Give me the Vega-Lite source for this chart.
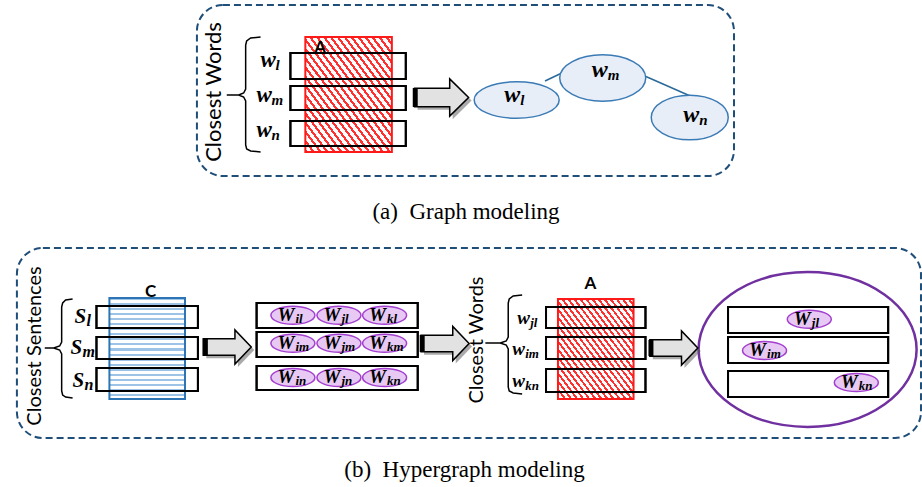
{
"$schema": "https://vega.github.io/schema/vega-lite/v6.json",
"width": 922, "height": 487, "padding": 0,
"autosize": {"type": "fit", "contains": "padding"},
"background": "white",
"config": {"view": {"stroke": null}},
"datasets": {
"panels": [{"x":198,"x2":738,"y":5,"y2":176},{"x":17,"x2":926,"y":248,"y2":438}],
"rows": [
{"x":292,"x2":408,"y":53,"y2":79},{"x":292,"x2":408,"y":86,"y2":110},{"x":292,"x2":408,"y":121,"y2":146},
{"x":97,"x2":199,"y":306,"y2":328},{"x":97,"x2":199,"y":337,"y2":359},{"x":97,"x2":199,"y":368,"y2":391},
{"x":258,"x2":420,"y":303,"y2":328},{"x":258,"x2":420,"y":332,"y2":357},{"x":258,"x2":420,"y":366,"y2":390},
{"x":549,"x2":649,"y":307,"y2":328},{"x":549,"x2":649,"y":337,"y2":359},{"x":549,"x2":649,"y":369,"y2":392},
{"x":732,"x2":893,"y":307,"y2":333},{"x":732,"x2":893,"y":337,"y2":363},{"x":732,"x2":893,"y":371,"y2":397}],
"hatch": [{"x":307,"x2":394,"y":37,"y2":152},{"x":561,"x2":637,"y":299,"y2":399}],
"blue": [{"x":110,"x2":186,"y":298,"y2":399}],
"braces": [
{"id":"a","o":0,"x":262,"y":37},{"id":"a","o":1,"x":252,"y":38},{"id":"a","o":2,"x":248,"y":41},{"id":"a","o":3,"x":247,"y":45},{"id":"a","o":4,"x":247,"y":89},{"id":"a","o":5,"x":245,"y":93},{"id":"a","o":6,"x":240,"y":95},{"id":"a","o":7,"x":228,"y":95},{"id":"a","o":8,"x":240,"y":95},{"id":"a","o":9,"x":245,"y":97},{"id":"a","o":10,"x":247,"y":101},{"id":"a","o":11,"x":247,"y":145},{"id":"a","o":12,"x":248,"y":149},{"id":"a","o":13,"x":252,"y":151},{"id":"a","o":14,"x":262,"y":152},
{"id":"b1","o":0,"x":73,"y":299},{"id":"b1","o":1,"x":66,"y":300},{"id":"b1","o":2,"x":63,"y":303},{"id":"b1","o":3,"x":62,"y":307},{"id":"b1","o":4,"x":62,"y":342},{"id":"b1","o":5,"x":60,"y":346},{"id":"b1","o":6,"x":54,"y":348},{"id":"b1","o":7,"x":45,"y":348},{"id":"b1","o":8,"x":54,"y":348},{"id":"b1","o":9,"x":60,"y":350},{"id":"b1","o":10,"x":62,"y":354},{"id":"b1","o":11,"x":62,"y":391},{"id":"b1","o":12,"x":63,"y":395},{"id":"b1","o":13,"x":66,"y":397},{"id":"b1","o":14,"x":73,"y":398},
{"id":"b2","o":0,"x":525,"y":295},{"id":"b2","o":1,"x":516,"y":296},{"id":"b2","o":2,"x":512,"y":299},{"id":"b2","o":3,"x":511,"y":303},{"id":"b2","o":4,"x":511,"y":337},{"id":"b2","o":5,"x":509,"y":341},{"id":"b2","o":6,"x":503,"y":343},{"id":"b2","o":7,"x":488,"y":343},{"id":"b2","o":8,"x":503,"y":343},{"id":"b2","o":9,"x":509,"y":345},{"id":"b2","o":10,"x":511,"y":349},{"id":"b2","o":11,"x":511,"y":387},{"id":"b2","o":12,"x":512,"y":391},{"id":"b2","o":13,"x":516,"y":393},{"id":"b2","o":14,"x":525,"y":394}],
"edges": [{"x":548,"y":81,"x2":567,"y2":72},{"x":646,"y":75,"x2":694,"y2":96}],
"nodes": [{"id":"l","x":519.5,"y":100},{"id":"m","x":606,"y":78},{"id":"n","x":693.5,"y":117.5}],
"small": [
{"x":294.5,"y":315.2,"s":"il"},{"x":340.8,"y":315.2,"s":"jl"},{"x":386.7,"y":315.2,"s":"kl"},
{"x":294.5,"y":343.3,"s":"im"},{"x":340.8,"y":343.3,"s":"jm"},{"x":386.7,"y":343.3,"s":"km"},
{"x":294.5,"y":377.5,"s":"in"},{"x":340.8,"y":377.5,"s":"jn"},{"x":386.7,"y":377.5,"s":"kn"},
{"x":813.7,"y":319.3,"s":"jl"},{"x":768.7,"y":350.5,"s":"im"},{"x":861,"y":382.5,"s":"kn"}],
"big": [{"x":812,"y":349.5}],
"arrows": [{"id":1,"x":444,"y":97.5},{"id":2,"x":228.5,"y":347},{"id":3,"x":447.5,"y":343.5},{"id":4,"x":677.5,"y":348}],
"arrowEdges": [{"x":415,"x2":420,"y":88,"y2":107},{"x":204,"x2":209,"y":339,"y2":355},{"x":422,"x2":427,"y":335,"y2":352},{"x":652,"x2":657,"y":340,"y2":356}],
"wa": [{"x":262,"y":67,"t":"w","s":"l"},{"x":258,"y":101.5,"t":"w","s":"m"},{"x":258,"y":137,"t":"w","s":"n"}],
"wn": [{"x":507,"y":101.5,"t":"w","s":"l"},{"x":595,"y":76.5,"t":"w","s":"m"},{"x":687,"y":121.5,"t":"w","s":"n"}],
"sl": [{"x":75,"y":323,"t":"S","s":"l"},{"x":71,"y":354,"t":"S","s":"m"},{"x":73,"y":387,"t":"S","s":"n"}],
"wb": [{"x":520,"y":324,"t":"w","s":"jl"},{"x":515,"y":355,"t":"w","s":"im"},{"x":515,"y":386.5,"t":"w","s":"kn"}],
"rot": [{"id":"a","x":215,"y":92,"t":"Closest Words"},{"id":"s","x":35,"y":346,"t":"Closest Sentences"},{"id":"b","x":480,"y":340,"t":"Closest Words"}],
"caps": [{"x":322,"y":53,"t":"A"},{"x":593.5,"y":289,"t":"A"},{"x":151.5,"y":297,"t":"C"}],
"captions": [{"x":468.5,"y":219,"t":"(a)\u00a0 Graph modeling"},{"x":467,"y":477,"t":"(b)\u00a0 Hypergraph modeling"}]
},
"encoding": {
"x": {"field":"x","type":"quantitative","scale":{"domain":[0,922],"nice":false,"zero":false},"axis":null},
"y": {"field":"y","type":"quantitative","scale":{"domain":[0,487],"nice":false,"zero":false,"reverse":true},"axis":null}
},
"layer": [
{"data":{"name":"big"},"mark":{"type":"point","shape":"M-1,0A1,0.71,0,1,1,1,0A1,0.71,0,1,1,-1,0Z","size":47524,"filled":false,"stroke":"#7030a0","strokeWidth":2.5,"opacity":1}},
{"data":{"name":"rows"},"mark":{"type":"rect","fill":"white","stroke":"black","strokeWidth":2},"encoding":{"x2":{"field":"x2"},"y2":{"field":"y2"}}},
{"data":{"name":"hatch"},"mark":{"type":"rect","stroke":"#ff1a1a","strokeWidth":2,"fill":{"gradient":"linear","x1":0,"y1":1,"x2":1,"y2":0,"stops":[
{"offset":0,"color":"#ff3030"},{"offset":0.016,"color":"#ff3030"},{"offset":0.016,"color":"#ffffff"},{"offset":0.04,"color":"#ffffff"},
{"offset":0.04,"color":"#ff3030"},{"offset":0.056,"color":"#ff3030"},{"offset":0.056,"color":"#ffffff"},{"offset":0.08,"color":"#ffffff"},
{"offset":0.08,"color":"#ff3030"},{"offset":0.096,"color":"#ff3030"},{"offset":0.096,"color":"#ffffff"},{"offset":0.12,"color":"#ffffff"},
{"offset":0.12,"color":"#ff3030"},{"offset":0.136,"color":"#ff3030"},{"offset":0.136,"color":"#ffffff"},{"offset":0.16,"color":"#ffffff"},
{"offset":0.16,"color":"#ff3030"},{"offset":0.176,"color":"#ff3030"},{"offset":0.176,"color":"#ffffff"},{"offset":0.20,"color":"#ffffff"},
{"offset":0.20,"color":"#ff3030"},{"offset":0.216,"color":"#ff3030"},{"offset":0.216,"color":"#ffffff"},{"offset":0.24,"color":"#ffffff"},
{"offset":0.24,"color":"#ff3030"},{"offset":0.256,"color":"#ff3030"},{"offset":0.256,"color":"#ffffff"},{"offset":0.28,"color":"#ffffff"},
{"offset":0.28,"color":"#ff3030"},{"offset":0.296,"color":"#ff3030"},{"offset":0.296,"color":"#ffffff"},{"offset":0.32,"color":"#ffffff"},
{"offset":0.32,"color":"#ff3030"},{"offset":0.336,"color":"#ff3030"},{"offset":0.336,"color":"#ffffff"},{"offset":0.36,"color":"#ffffff"},
{"offset":0.36,"color":"#ff3030"},{"offset":0.376,"color":"#ff3030"},{"offset":0.376,"color":"#ffffff"},{"offset":0.40,"color":"#ffffff"},
{"offset":0.40,"color":"#ff3030"},{"offset":0.416,"color":"#ff3030"},{"offset":0.416,"color":"#ffffff"},{"offset":0.44,"color":"#ffffff"},
{"offset":0.44,"color":"#ff3030"},{"offset":0.456,"color":"#ff3030"},{"offset":0.456,"color":"#ffffff"},{"offset":0.48,"color":"#ffffff"},
{"offset":0.48,"color":"#ff3030"},{"offset":0.496,"color":"#ff3030"},{"offset":0.496,"color":"#ffffff"},{"offset":0.52,"color":"#ffffff"},
{"offset":0.52,"color":"#ff3030"},{"offset":0.536,"color":"#ff3030"},{"offset":0.536,"color":"#ffffff"},{"offset":0.56,"color":"#ffffff"},
{"offset":0.56,"color":"#ff3030"},{"offset":0.576,"color":"#ff3030"},{"offset":0.576,"color":"#ffffff"},{"offset":0.60,"color":"#ffffff"},
{"offset":0.60,"color":"#ff3030"},{"offset":0.616,"color":"#ff3030"},{"offset":0.616,"color":"#ffffff"},{"offset":0.64,"color":"#ffffff"},
{"offset":0.64,"color":"#ff3030"},{"offset":0.656,"color":"#ff3030"},{"offset":0.656,"color":"#ffffff"},{"offset":0.68,"color":"#ffffff"},
{"offset":0.68,"color":"#ff3030"},{"offset":0.696,"color":"#ff3030"},{"offset":0.696,"color":"#ffffff"},{"offset":0.72,"color":"#ffffff"},
{"offset":0.72,"color":"#ff3030"},{"offset":0.736,"color":"#ff3030"},{"offset":0.736,"color":"#ffffff"},{"offset":0.76,"color":"#ffffff"},
{"offset":0.76,"color":"#ff3030"},{"offset":0.776,"color":"#ff3030"},{"offset":0.776,"color":"#ffffff"},{"offset":0.80,"color":"#ffffff"},
{"offset":0.80,"color":"#ff3030"},{"offset":0.816,"color":"#ff3030"},{"offset":0.816,"color":"#ffffff"},{"offset":0.84,"color":"#ffffff"},
{"offset":0.84,"color":"#ff3030"},{"offset":0.856,"color":"#ff3030"},{"offset":0.856,"color":"#ffffff"},{"offset":0.88,"color":"#ffffff"},
{"offset":0.88,"color":"#ff3030"},{"offset":0.896,"color":"#ff3030"},{"offset":0.896,"color":"#ffffff"},{"offset":0.92,"color":"#ffffff"},
{"offset":0.92,"color":"#ff3030"},{"offset":0.936,"color":"#ff3030"},{"offset":0.936,"color":"#ffffff"},{"offset":0.96,"color":"#ffffff"},
{"offset":0.96,"color":"#ff3030"},{"offset":0.976,"color":"#ff3030"},{"offset":0.976,"color":"#ffffff"},{"offset":1,"color":"#ffffff"}]}},
"encoding":{"x2":{"field":"x2"},"y2":{"field":"y2"}}},
{"data":{"name":"blue"},"mark":{"type":"rect","stroke":"#2e75b6","strokeWidth":2,"fill":{"gradient":"linear","x1":0,"y1":0,"x2":0,"y2":1,"stops":[
{"offset":0,"color":"#9dc3e6"},{"offset":0.02,"color":"#9dc3e6"},{"offset":0.02,"color":"#ffffff"},{"offset":0.05,"color":"#ffffff"},
{"offset":0.05,"color":"#9dc3e6"},{"offset":0.07,"color":"#9dc3e6"},{"offset":0.07,"color":"#ffffff"},{"offset":0.10,"color":"#ffffff"},
{"offset":0.10,"color":"#9dc3e6"},{"offset":0.12,"color":"#9dc3e6"},{"offset":0.12,"color":"#ffffff"},{"offset":0.15,"color":"#ffffff"},
{"offset":0.15,"color":"#9dc3e6"},{"offset":0.17,"color":"#9dc3e6"},{"offset":0.17,"color":"#ffffff"},{"offset":0.20,"color":"#ffffff"},
{"offset":0.20,"color":"#9dc3e6"},{"offset":0.22,"color":"#9dc3e6"},{"offset":0.22,"color":"#ffffff"},{"offset":0.25,"color":"#ffffff"},
{"offset":0.25,"color":"#9dc3e6"},{"offset":0.27,"color":"#9dc3e6"},{"offset":0.27,"color":"#ffffff"},{"offset":0.30,"color":"#ffffff"},
{"offset":0.30,"color":"#9dc3e6"},{"offset":0.32,"color":"#9dc3e6"},{"offset":0.32,"color":"#ffffff"},{"offset":0.35,"color":"#ffffff"},
{"offset":0.35,"color":"#9dc3e6"},{"offset":0.37,"color":"#9dc3e6"},{"offset":0.37,"color":"#ffffff"},{"offset":0.40,"color":"#ffffff"},
{"offset":0.40,"color":"#9dc3e6"},{"offset":0.42,"color":"#9dc3e6"},{"offset":0.42,"color":"#ffffff"},{"offset":0.45,"color":"#ffffff"},
{"offset":0.45,"color":"#9dc3e6"},{"offset":0.47,"color":"#9dc3e6"},{"offset":0.47,"color":"#ffffff"},{"offset":0.50,"color":"#ffffff"},
{"offset":0.50,"color":"#9dc3e6"},{"offset":0.52,"color":"#9dc3e6"},{"offset":0.52,"color":"#ffffff"},{"offset":0.55,"color":"#ffffff"},
{"offset":0.55,"color":"#9dc3e6"},{"offset":0.57,"color":"#9dc3e6"},{"offset":0.57,"color":"#ffffff"},{"offset":0.60,"color":"#ffffff"},
{"offset":0.60,"color":"#9dc3e6"},{"offset":0.62,"color":"#9dc3e6"},{"offset":0.62,"color":"#ffffff"},{"offset":0.65,"color":"#ffffff"},
{"offset":0.65,"color":"#9dc3e6"},{"offset":0.67,"color":"#9dc3e6"},{"offset":0.67,"color":"#ffffff"},{"offset":0.70,"color":"#ffffff"},
{"offset":0.70,"color":"#9dc3e6"},{"offset":0.72,"color":"#9dc3e6"},{"offset":0.72,"color":"#ffffff"},{"offset":0.75,"color":"#ffffff"},
{"offset":0.75,"color":"#9dc3e6"},{"offset":0.77,"color":"#9dc3e6"},{"offset":0.77,"color":"#ffffff"},{"offset":0.80,"color":"#ffffff"},
{"offset":0.80,"color":"#9dc3e6"},{"offset":0.82,"color":"#9dc3e6"},{"offset":0.82,"color":"#ffffff"},{"offset":0.85,"color":"#ffffff"},
{"offset":0.85,"color":"#9dc3e6"},{"offset":0.87,"color":"#9dc3e6"},{"offset":0.87,"color":"#ffffff"},{"offset":0.90,"color":"#ffffff"},
{"offset":0.90,"color":"#9dc3e6"},{"offset":0.92,"color":"#9dc3e6"},{"offset":0.92,"color":"#ffffff"},{"offset":0.95,"color":"#ffffff"},
{"offset":0.95,"color":"#9dc3e6"},{"offset":0.97,"color":"#9dc3e6"},{"offset":0.97,"color":"#ffffff"},{"offset":1,"color":"#ffffff"}]}},
"encoding":{"x2":{"field":"x2"},"y2":{"field":"y2"}}},
{"data":{"name":"rows"},"mark":{"type":"rect","fill":"transparent","stroke":"black","strokeWidth":2},"encoding":{"x2":{"field":"x2"},"y2":{"field":"y2"}}},
{"data":{"name":"panels"},"mark":{"type":"rect","fill":"transparent","stroke":"#1f4e79","strokeWidth":2,"strokeDash":[7,4],"cornerRadius":26},"encoding":{"x2":{"field":"x2"},"y2":{"field":"y2"}}},
{"data":{"name":"braces"},"mark":{"type":"line","color":"black","strokeWidth":1.5},"encoding":{"detail":{"field":"id"},"order":{"field":"o","type":"quantitative"}}},
{"data":{"name":"edges"},"mark":{"type":"rule","color":"#2a6a9a","strokeWidth":1.5},"encoding":{"x2":{"field":"x2"},"y2":{"field":"y2"}}},
{"data":{"name":"nodes"},"transform":[{"filter":"datum.id=='l'"}],"mark":{"type":"point","shape":"M-1,0A1,0.43,0,1,1,1,0A1,0.43,0,1,1,-1,0Z","size":7225,"filled":true,"fill":"#e8eef8","stroke":"#3b7bb5","strokeWidth":1.5,"opacity":1}},
{"data":{"name":"nodes"},"transform":[{"filter":"datum.id=='m'"}],"mark":{"type":"point","shape":"M-1,0A1,0.54,0,1,1,1,0A1,0.54,0,1,1,-1,0Z","size":7396,"filled":true,"fill":"#e8eef8","stroke":"#3b7bb5","strokeWidth":1.5,"opacity":1}},
{"data":{"name":"nodes"},"transform":[{"filter":"datum.id=='n'"}],"mark":{"type":"point","shape":"M-1,0A1,0.58,0,1,1,1,0A1,0.58,0,1,1,-1,0Z","size":5929,"filled":true,"fill":"#e8eef8","stroke":"#3b7bb5","strokeWidth":1.5,"opacity":1}},
{"data":{"name":"small"},"mark":{"type":"point","shape":"M-1,0A1,0.41,0,1,1,1,0A1,0.41,0,1,1,-1,0Z","size":1936,"filled":true,"fill":"#e7c9f3","stroke":"#a43fd0","strokeWidth":1.5,"opacity":1}},
{"data":{"name":"arrows"},"transform":[{"filter":"datum.id==1"}],"mark":{"type":"point","shape":"M-1,-0.34L0.3,-0.34L0.3,-0.69L1,0L0.3,0.69L0.3,0.34L-1,0.34Z","size":2916,"filled":true,"fill":"#555555","opacity":0.5,"strokeWidth":0,"xOffset":3,"yOffset":3}},
{"data":{"name":"arrows"},"transform":[{"filter":"datum.id!=1"}],"mark":{"type":"point","shape":"M-1,-0.34L0.32,-0.34L0.32,-0.71L1,0L0.32,0.71L0.32,0.34L-1,0.34Z","size":2304,"filled":true,"fill":"#555555","opacity":0.5,"strokeWidth":0,"xOffset":3,"yOffset":3}},
{"data":{"name":"arrows"},"transform":[{"filter":"datum.id==1"}],"mark":{"type":"point","shape":"M-1,-0.34L0.3,-0.34L0.3,-0.69L1,0L0.3,0.69L0.3,0.34L-1,0.34Z","size":2916,"filled":true,"fill":"#e2e2e2","stroke":"black","strokeWidth":1.5,"opacity":1}},
{"data":{"name":"arrows"},"transform":[{"filter":"datum.id!=1"}],"mark":{"type":"point","shape":"M-1,-0.34L0.32,-0.34L0.32,-0.71L1,0L0.32,0.71L0.32,0.34L-1,0.34Z","size":2304,"filled":true,"fill":"#e2e2e2","stroke":"black","strokeWidth":1.5,"opacity":1}},
{"data":{"name":"arrowEdges"},"mark":{"type":"rect","fill":"black"},"encoding":{"x2":{"field":"x2"},"y2":{"field":"y2"}}},
{"data":{"name":"wa"},"mark":{"type":"text","font":"Liberation Serif","fontStyle":"italic","fontWeight":"bold","fontSize":23,"align":"left","baseline":"alphabetic","color":"black"},"encoding":{"text":{"field":"t"}}},
{"data":{"name":"wa"},"mark":{"type":"text","font":"Liberation Serif","fontStyle":"italic","fontWeight":"bold","fontSize":15,"align":"left","baseline":"alphabetic","dx":15,"dy":3,"color":"black"},"encoding":{"text":{"field":"s"}}},
{"data":{"name":"wn"},"mark":{"type":"text","font":"Liberation Serif","fontStyle":"italic","fontWeight":"bold","fontSize":24,"align":"left","baseline":"alphabetic","color":"black"},"encoding":{"text":{"field":"t"}}},
{"data":{"name":"wn"},"mark":{"type":"text","font":"Liberation Serif","fontStyle":"italic","fontWeight":"bold","fontSize":15,"align":"left","baseline":"alphabetic","dx":16,"dy":3,"color":"black"},"encoding":{"text":{"field":"s"}}},
{"data":{"name":"sl"},"mark":{"type":"text","font":"Liberation Serif","fontStyle":"italic","fontWeight":"bold","fontSize":21,"align":"left","baseline":"alphabetic","color":"black"},"encoding":{"text":{"field":"t"}}},
{"data":{"name":"sl"},"mark":{"type":"text","font":"Liberation Serif","fontStyle":"italic","fontWeight":"bold","fontSize":16,"align":"left","baseline":"alphabetic","dx":12,"dy":3,"color":"black"},"encoding":{"text":{"field":"s"}}},
{"data":{"name":"wb"},"mark":{"type":"text","font":"Liberation Serif","fontStyle":"italic","fontWeight":"bold","fontSize":19,"align":"left","baseline":"alphabetic","color":"black"},"encoding":{"text":{"field":"t"}}},
{"data":{"name":"wb"},"mark":{"type":"text","font":"Liberation Serif","fontStyle":"italic","fontWeight":"bold","fontSize":13,"align":"left","baseline":"alphabetic","dx":13,"dy":3,"color":"black"},"encoding":{"text":{"field":"s"}}},
{"data":{"name":"small"},"mark":{"type":"text","font":"Liberation Serif","fontStyle":"italic","fontWeight":"bold","fontSize":19,"align":"left","baseline":"alphabetic","dx":-15.5,"dy":5.5,"color":"black","text":"W"}},
{"data":{"name":"small"},"mark":{"type":"text","font":"Liberation Serif","fontStyle":"italic","fontWeight":"bold","fontSize":13,"align":"left","baseline":"alphabetic","dx":2.5,"dy":7.5,"color":"black"},"encoding":{"text":{"field":"s"}}},
{"data":{"name":"rot"},"transform":[{"filter":"datum.id=='a'"}],"mark":{"type":"text","font":"Lato","fontSize":22,"angle":270,"align":"center","baseline":"middle","color":"black"},"encoding":{"text":{"field":"t"}}},
{"data":{"name":"rot"},"transform":[{"filter":"datum.id!='a'"}],"mark":{"type":"text","font":"Lato","fontSize":20,"angle":270,"align":"center","baseline":"middle","color":"black"},"encoding":{"text":{"field":"t"}}},
{"data":{"name":"caps"},"mark":{"type":"text","font":"Lato","fontWeight":"bold","fontSize":17,"align":"center","baseline":"alphabetic","color":"black"},"encoding":{"text":{"field":"t"}}},
{"data":{"name":"captions"},"mark":{"type":"text","font":"Liberation Serif","fontSize":23,"align":"center","baseline":"alphabetic","color":"black"},"encoding":{"text":{"field":"t"}}}
]
}
